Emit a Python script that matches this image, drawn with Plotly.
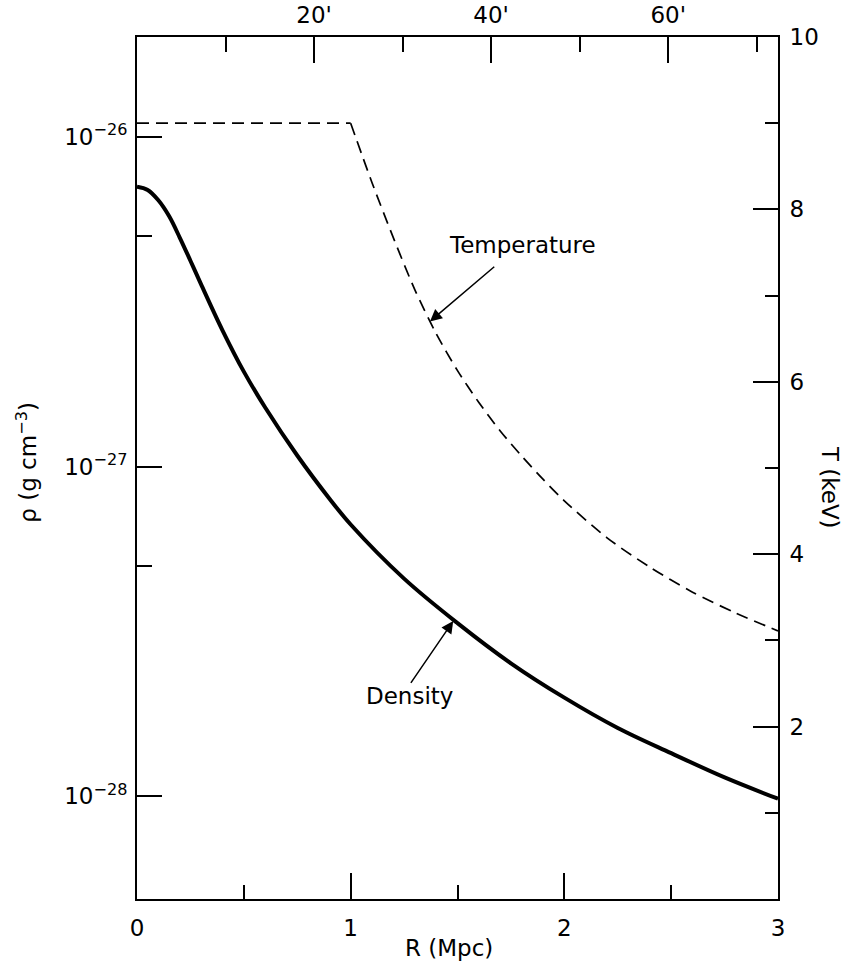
import plotly.graph_objects as go

# Density profile (R in Mpc, rho in g cm^-3)
R_density = [0, 0.05, 0.1, 0.15, 0.2, 0.25, 0.3, 0.4, 0.5, 0.6, 0.75, 0.9,
             1.0, 1.25, 1.5, 1.75, 2.0, 2.25, 2.5, 2.75, 3.0]
rho = [7.06e-27, 6.90e-27, 6.42e-27, 5.75e-27, 4.95e-27, 4.21e-27, 3.57e-27,
       2.59e-27, 1.94e-27, 1.51e-27, 1.08e-27, 8.00e-28, 6.67e-28, 4.57e-28,
       3.35e-28, 2.53e-28, 1.99e-28, 1.61e-28, 1.35e-28, 1.14e-28, 9.82e-29]

# Temperature profile (R in Mpc, T in keV): isothermal core, then falling
R_temp_core = [0, 1.0]
T_core = [9.0, 9.0]
R_temp_fall = [1.0, 1.1, 1.2, 1.3, 1.4, 1.5, 1.6, 1.7, 1.8, 1.9, 2.0, 2.2,
               2.4, 2.6, 2.8, 3.0]
T_fall = [9.0, 8.31, 7.67, 7.07, 6.56, 6.13, 5.76, 5.43, 5.14, 4.87, 4.62,
          4.19, 3.85, 3.56, 3.32, 3.11]

# Axis ticks
x_ticks = [0, 1, 2, 3]
x_minor = [0.5, 1.5, 2.5]
arcmin_ticks = [20, 40, 60]
arcmin_labels = ["20'", "40'", "60'"]
arcmin_minor = [10, 30, 50, 70]
arcmin_max = 72.4
rho_ticks = [1e-28, 1e-27, 1e-26]
rho_labels = ["10<sup>−28</sup>", "10<sup>−27</sup>", "10<sup>−26</sup>"]
rho_minor = [5e-28, 5e-27]
T_ticks = [2, 4, 6, 8, 10]
T_minor = [1, 3, 5, 7, 9]

FONT = "DejaVu Sans"
FS = 23

fig = go.Figure()

fig.add_trace(go.Scatter(x=R_density, y=rho, mode="lines",
                         line=dict(color="black", width=4, shape="spline"),
                         xaxis="x", yaxis="y", showlegend=False,
                         hoverinfo="skip"))
fig.add_trace(go.Scatter(x=R_temp_core, y=T_core, mode="lines",
                         line=dict(color="black", width=1.7, dash="12px,7px"),
                         xaxis="x", yaxis="y2", showlegend=False,
                         hoverinfo="skip"))
fig.add_trace(go.Scatter(x=R_temp_fall, y=T_fall, mode="lines",
                         line=dict(color="black", width=1.7, dash="12px,7px",
                                   shape="spline", smoothing=0.8),
                         xaxis="x", yaxis="y2", showlegend=False,
                         hoverinfo="skip"))
# invisible trace to activate the top arcmin axis
fig.add_trace(go.Scatter(x=[0, arcmin_max], y=[1e-27, 1e-27], mode="lines",
                         line=dict(width=0), opacity=0, xaxis="x2", yaxis="y",
                         showlegend=False, hoverinfo="skip"))

axis_common = dict(showgrid=False, zeroline=False, showline=True,
                   linecolor="black", linewidth=2, ticks="inside",
                   tickcolor="black", tickwidth=2, automargin=False,
                   tickfont=dict(family=FONT, size=FS, color="black"))

def minor(vals, length):
    return dict(tickvals=vals, ticklen=length, ticks="inside",
                tickcolor="black", tickwidth=2, showgrid=False)

fig.update_layout(
    width=843, height=968,
    margin=dict(l=137, r=65, t=37, b=69, autoexpand=False),
    paper_bgcolor="white", plot_bgcolor="white",
    xaxis=dict(range=[0, 3], tickvals=x_ticks,
               ticktext=[str(v) for v in x_ticks], ticklen=26,
               ticklabelstandoff=7, minor=minor(x_minor, 14),
               anchor="y", **axis_common),
    xaxis2=dict(range=[0, arcmin_max], tickvals=arcmin_ticks,
                ticktext=arcmin_labels, ticklen=26, side="top",
                overlaying="x", anchor="y", ticklabelstandoff=3,
                minor=minor(arcmin_minor, 15), **axis_common),
    yaxis=dict(type="log", range=[-28.312, -25.697], tickvals=rho_ticks,
               ticktext=rho_labels, ticklen=25, ticklabelstandoff=3,
               minor=minor(rho_minor, 15), anchor="x", **axis_common),
    yaxis2=dict(range=[0, 10], tickvals=T_ticks,
                ticktext=[str(v) for v in T_ticks], ticklen=25,
                side="right", overlaying="y", anchor="x",
                ticklabelstandoff=5, minor=minor(T_minor, 13),
                **axis_common),
)

afont = dict(family=FONT, size=FS, color="black")
annotations = [
    # axis titles
    dict(text="R (Mpc)", xref="paper", yref="paper", x=0.487, y=-0.057,
         xanchor="center", yanchor="middle", showarrow=False, font=afont),
    dict(text="ρ (g cm<sup>−3</sup>)", xref="paper", yref="paper",
         x=-0.172, y=0.507, xanchor="center", yanchor="middle",
         textangle=-90, showarrow=False, font=afont),
    dict(text="T (keV)", xref="paper", yref="paper", x=1.081, y=0.477,
         xanchor="center", yanchor="middle", textangle=90,
         showarrow=False, font=afont),
    # curve labels
    dict(text="Temperature", xref="x", yref="y2", x=1.802, y=7.59,
         xanchor="center", yanchor="middle", showarrow=False, font=afont),
    dict(text="Density", xref="x", yref="y", x=1.277, y=-27.697,
         xanchor="center", yanchor="middle", showarrow=False, font=afont),
    # arrows
    dict(text="", xref="x", yref="y2", x=1.371, y=6.70,
         axref="x", ayref="y2", ax=1.679, ay=7.35, showarrow=True,
         arrowhead=2, arrowsize=1.6, arrowwidth=1.5, arrowcolor="black",
         standoff=0),
    dict(text="", xref="x", yref="y", x=1.480, y=-27.469,
         axref="x", ayref="y", ax=1.277, ay=-27.661, showarrow=True,
         arrowhead=2, arrowsize=1.6, arrowwidth=1.5, arrowcolor="black",
         standoff=0),
]
fig.update_layout(annotations=annotations)

fig.write_html("out.html", config={"displayModeBar": False},
               post_script="document.body.style.margin='0px';")
